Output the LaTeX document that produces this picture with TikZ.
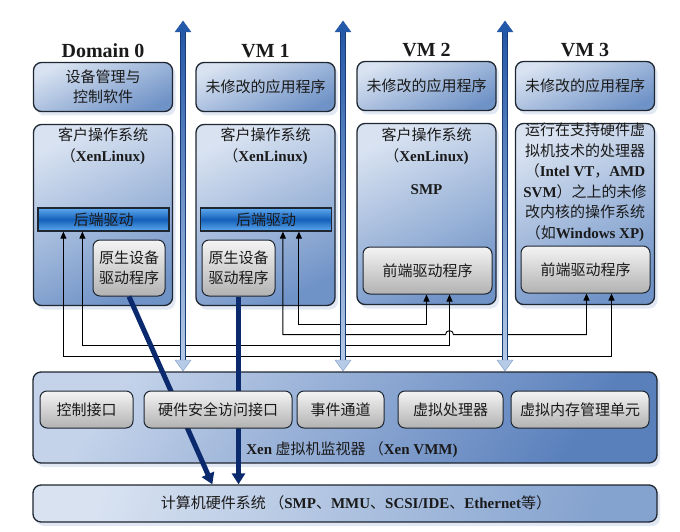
\documentclass[tikz,border=0pt]{standalone}
\usepackage{fontspec}
\setmainfont{Liberation Serif}
\newfontfamily\cjk{Noto Sans CJK SC}
\usepackage{tikz}
\usetikzlibrary{shapes,arrows.meta,positioning,calc,shadows}

\definecolor{boxtop}{HTML}{D8E2F1}
\definecolor{boxbot}{HTML}{7093C7}
\definecolor{edge}{HTML}{1E2631}
\definecolor{graytop}{HTML}{F4F4F4}
\definecolor{graybot}{HTML}{B2B2B2}
\definecolor{barlight}{HTML}{5FA9EE}
\definecolor{bardark}{HTML}{1460BA}
\definecolor{navy}{HTML}{0B2A6E}
\definecolor{arrdark}{HTML}{2458A8}
\definecolor{arrlight}{HTML}{B7CAE6}
\definecolor{vmmtop}{HTML}{C4D3EA}
\definecolor{vmmbot}{HTML}{5A80BC}
\definecolor{txt}{HTML}{1A1A1A}

\newcommand{\entxt}[1]{{\rmfamily\bfseries #1}}

\begin{document}
\begin{tikzpicture}[
    x=1pt, y=-1pt,
    every node/.style={text=txt},
    title/.style={font=\bfseries\fontsize{20}{22}\selectfont, inner sep=1pt},
    zh/.style={font=\cjk\fontsize{15}{20.5}\selectfont, align=center},
    bluebox/.style={draw=edge, line width=1.3pt, rounded corners=8pt, top color=boxtop, bottom color=boxbot, shading angle=25,
        drop shadow={shadow xshift=3pt, shadow yshift=-4pt, fill=boxbot!35, opacity=0.6}, inner sep=0pt},
    appbox/.style={bluebox, zh, minimum width=139pt, minimum height=49pt},
    osbox/.style={bluebox, minimum width=139pt, minimum height=181pt},
    grybox/.style={draw=edge, line width=1pt, rounded corners=7pt, top color=graytop, bottom color=graybot, zh, inner sep=0pt},
    bebar/.style={draw=edge, line width=1.2pt, top color=barlight, bottom color=barlight, middle color=bardark, zh, minimum width=131pt, minimum height=23pt, inner sep=0pt},
    conn/.style={{Triangle[length=7pt,width=6pt]}-{Triangle[length=7pt,width=6pt]}, line width=0.9pt, black},
    hwarrow/.style={-{Triangle[length=11pt,width=13pt]}, line width=5pt, navy}
]
\useasboundingbox (0,0) rectangle (680,532);

% --- Domains ---

% Domain 0
\node[appbox] (app0) at (103,87) {设备管理与\\控制软件};
\node[title, above=3pt of app0] (t0) {Domain 0};
\node[osbox] (os0) at (103,215) {};
\node[zh, below=4pt of os0.north, inner sep=0pt] (os0t) {客户操作系统\\（\entxt{XenLinux)}};
\node[bebar] (be0) at (103.5,219.5) {后端驱动};
\node[grybox, minimum width=72pt, minimum height=56pt] (nat0) at (129,268) {原生设备\\驱动程序};

% VM 1
\node[appbox] (app1) at (265.5,87) {未修改的应用程序};
\node[title, above=3pt of app1] (t1) {VM 1};
\node[osbox] (os1) at (265.5,215) {};
\node[zh, below=4pt of os1.north, inner sep=0pt] (os1t) {客户操作系统\\（\entxt{XenLinux)}};
\node[bebar] (be1) at (266,219.5) {后端驱动};
\node[grybox, minimum width=73pt, minimum height=56pt] (nat1) at (238.5,268) {原生设备\\驱动程序};

% VM 2
\node[appbox] (app2) at (426.5,86) {未修改的应用程序};
\node[title, above=3pt of app2] (t2) {VM 2};
\node[osbox] (os2) at (426.5,214) {};
\node[zh, below=5pt of os2.north, inner sep=0pt] (os2t) {客户操作系统\\（\entxt{XenLinux)}\\[13pt]\entxt{SMP}};
\node[grybox, minimum width=129pt, minimum height=47pt] (fe2) at (427.5,270.5) {前端驱动程序};

% VM 3
\node[appbox] (app3) at (585,86) {未修改的应用程序};
\node[title, above=3pt of app3] (t3) {VM 3};
\node[osbox] (os3) at (585,214) {};
\node[zh, below=0pt of os3.north, inner sep=0pt] (os3t) {运行在支持硬件虚\\拟机技术的处理器\\（\entxt{Intel VT}，\entxt{AMD}\\\entxt{SVM}）之上的未修\\改内核的操作系统\\（如\entxt{Windows XP)}};
\node[grybox, minimum width=129pt, minimum height=47pt] (fe3) at (585.5,269.5) {前端驱动程序};

% --- Split driver links ---
\coordinate (b0a) at ($(be0.south west)+(26,0)$);
\coordinate (b0b) at ($(be0.south west)+(45,0)$);
\coordinate (b1a) at ($(be1.south west)+(83,0)$);
\coordinate (b1b) at ($(be1.south west)+(99,0)$);
\coordinate (f2a) at ($(fe2.south west)+(64,0)$);
\coordinate (f2b) at ($(fe2.south west)+(87,0)$);
\coordinate (f3a) at ($(fe3.south west)+(66,0)$);
\coordinate (f3b) at ($(fe3.south west)+(91,0)$);

\draw[conn] (b1b) -- ++(0,93) -| (f2a);
\draw[conn] (b1a) -- ++(0,103) coordinate (jmp) -- ($(jmp -| f2b)+(-4,0)$) arc[start angle=180, end angle=360, radius=4] -| (f3a);
\draw[conn] (b0b) -- ++(0,114) -| (f2b);
\draw[conn] (b0a) -- ++(0,125) -| (f3b);

% --- Hypercall arrows ---
\foreach \x in {183,343,505} {
  \draw[draw=arrdark!70!black, line width=0.5pt, top color=arrdark, bottom color=arrlight] (\x-2.5,30) rectangle (\x+2.5,361);
  \filldraw[fill=arrdark, draw=arrdark] (\x-8,32) -- (\x,21) -- (\x+8,32) -- cycle;
  \filldraw[fill=arrlight, draw=arrdark!60] (\x-8,360) -- (\x,371) -- (\x+8,360) -- cycle;
}

% --- Xen VMM ---
\node[bluebox, minimum width=624pt, minimum height=91pt, top color=vmmtop, bottom color=vmmbot, shading angle=55] (vmm) at (345,417.5) {};
\node[bluebox, minimum width=624pt, minimum height=37pt, top color=boxtop, bottom color=boxbot!85, shading angle=70] (hw) at (345,503.5) {};
\coordinate (hw0) at ($(hw.north west)+(180,0)$);

\draw[hwarrow] (nat0.south) -- (hw0);
\draw[hwarrow] (nat1.south) -- (nat1.south |- hw.north);

\node[grybox, minimum width=93pt, minimum height=37pt] (if1) at (86.5,409.5) {控制接口};
\node[grybox, minimum width=148pt, minimum height=37pt] (if2) at (218,409.5) {硬件安全访问接口};
\node[grybox, minimum width=87pt, minimum height=37pt] (if3) at (340.5,409.5) {事件通道};
\node[grybox, minimum width=105pt, minimum height=37pt] (if4) at (450.5,409.5) {虚拟处理器};
\node[grybox, minimum width=138pt, minimum height=37pt] (if5) at (580,409.5) {虚拟内存管理单元};
\node[zh, font=\cjk\fontsize{15}{17}\selectfont] (vmmlbl) at (352,450) {\entxt{Xen} 虚拟机监视器 （\entxt{Xen VMM)}};

% --- Hardware ---
\node[zh, font=\cjk\fontsize{15}{17}\selectfont] (hwlbl) at (356,503) {计算机硬件系统 （\entxt{SMP}、\entxt{MMU}、\entxt{SCSI/IDE}、\entxt{Ethernet}等）};

\end{tikzpicture}
\end{document}
